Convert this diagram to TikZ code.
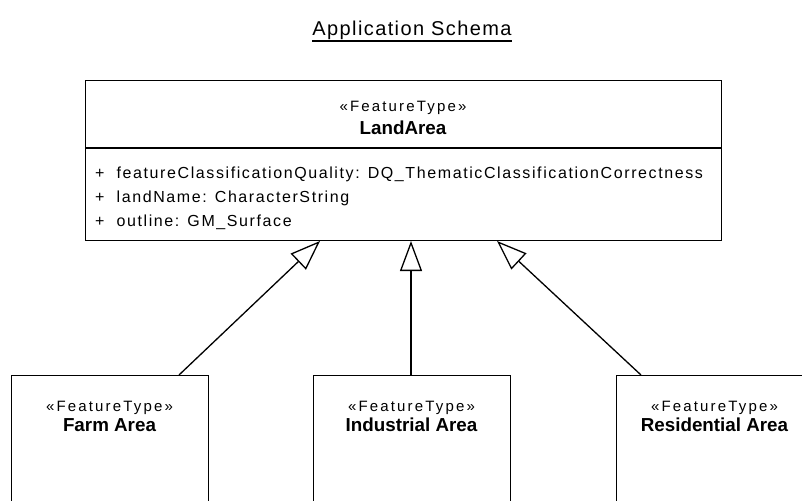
\documentclass[tikz,border=0pt]{standalone}
\usepackage{fontspec}
\setmainfont{Liberation Sans}
\newfontfamily\stfont[LetterSpace=14.5]{Liberation Sans}
\newfontfamily\atfont[LetterSpace=10]{Liberation Sans}
\newfontfamily\ttlfont[LetterSpace=7]{Liberation Sans}
\usetikzlibrary{arrows.meta}
\tikzset{
  umlbox/.style={draw=black, line width=1.4pt, rectangle, inner sep=0pt},
  stereo/.style={font=\stfont\fontsize{15}{18}\selectfont, anchor=base, inner sep=0pt},
  cname/.style={font=\bfseries\fontsize{18.8}{22}\selectfont, anchor=base, inner sep=0pt},
  attr/.style={font=\atfont\fontsize{16}{18}\selectfont, anchor=base west, inner sep=0pt},
  gen/.style={line width=1.3pt, -{Triangle[open, length=30pt, width=22pt, line width=1.3pt]}},
}
\begin{document}
\begin{tikzpicture}[x=1pt, y=-1pt]
\useasboundingbox (0,0) rectangle (802,500);
\clip (0,0) rectangle (802,500);
% title
\node[font=\ttlfont\fontsize{20}{24}\selectfont, anchor=base, inner sep=0pt] (title) at (412,36) {Application Schema};
\draw[line width=1.5pt] (title.south west |- 0,41) -- (title.south east |- 0,41);
% LandArea
\node[umlbox, minimum width=636pt, minimum height=160pt, anchor=north west] (land) at (85,80) {};
\draw[line width=1.4pt] (85,148) -- (721,148);
\node[stereo] (landst) at (403,111) {«FeatureType»};
\node[cname] (landnm) at (403,135) {LandArea};
\node[attr] (a1) at (95,178) {+ \ featureClassificationQuality: DQ\_ThematicClassificationCorrectness};
\node[attr] (a2) at (95,202) {+ \ landName: CharacterString};
\node[attr] (a3) at (95,226) {+ \ outline: GM\_Surface};
% subclasses
\node[umlbox, minimum width=197pt, minimum height=140pt, anchor=north west] (farm) at (11,375) {};
\node[umlbox, minimum width=197pt, minimum height=140pt, anchor=north west] (ind) at (313,375) {};
\node[umlbox, minimum width=197pt, minimum height=140pt, anchor=north west] (res) at (616,375) {};
\node[stereo] (farmst) at (109.5,411) {«FeatureType»};
\node[cname] (farmnm) at (109.5,431) {Farm Area};
\node[stereo] (indst) at (411.5,411) {«FeatureType»};
\node[cname] (indnm) at (411.5,431) {Industrial Area};
\node[stereo] (resst) at (714.5,411) {«FeatureType»};
\node[cname] (resnm) at (714.5,431) {Residential Area};
% generalizations
\coordinate (f1) at (179,375);
\coordinate (f2) at (320,241);
\coordinate (i1) at (411,375);
\coordinate (i2) at (411,241);
\coordinate (r1) at (641,375);
\coordinate (r2) at (497,241);
\draw[gen] (f1) -- (f2);
\draw[gen] (i1) -- (i2);
\draw[gen] (r1) -- (r2);
\end{tikzpicture}
\end{document}
